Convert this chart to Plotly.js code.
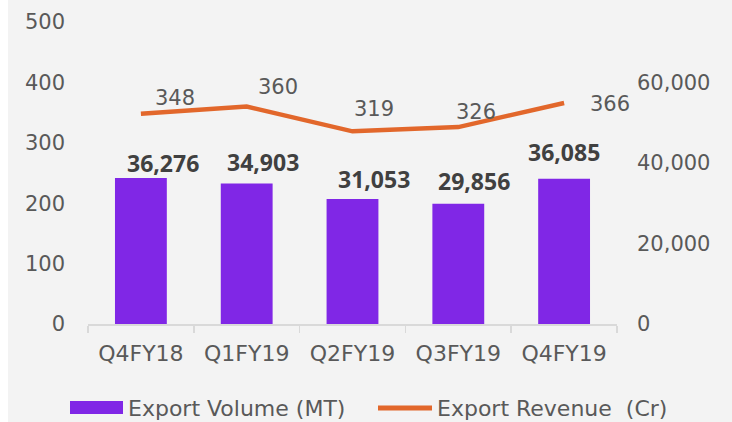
<!DOCTYPE html>
<html>
<head>
<meta charset="utf-8">
<script src="https://cdn.plot.ly/plotly-3.0.1.min.js"></script>
<style>
html,body{margin:0;padding:0;background:#fff;}
#chart{width:732px;height:422px;}
#strip{position:absolute;left:0;top:0;width:8px;height:422px;background:#fff;}
</style>
</head>
<body>
<div id="chart"></div>
<div id="strip"></div>
<script>
const categories = ["Q4FY18", "Q1FY19", "Q2FY19", "Q3FY19", "Q4FY19"];
const exportVolume = [36276, 34903, 31053, 29856, 36085];
const exportRevenue = [348, 360, 319, 326, 366];
const volumeName = "Export Volume (MT)";
const revenueName = "Export Revenue  (Cr)";
const leftTicks = [0, 100, 200, 300, 400, 500];
const rightTicks = [0, 20000, 40000, 60000];

// label offsets (styling, px)
const revLabelShift = [[34, 16], [31, 20], [21, 22], [18, 15], [46, -1]];
const volLabelShift = [[22, 15], [16, 21], [21, 20], [16, 23], [0, 27]];

const purple = "#8027E6";
const orange = "#E2672B";
const grey = "#595959";
const fam = "'DejaVu Sans', sans-serif";
const xFont = {family: fam, size: 22, color: grey};
const yFont = {family: fam, size: 21, color: grey};
const lblFont = {family: fam, size: 21, color: grey};
const legFont = {family: fam, size: 22, color: grey};
const volFont = {family: "'Open Sans', 'Noto Sans', sans-serif", size: 23, color: "#404040", weight: 700};

const barTrace = {
  type: "bar", x: categories, y: exportVolume, yaxis: "y2", name: volumeName,
  marker: {color: purple},
  hoverinfo: "skip", showlegend: false
};
const lineTrace = {
  type: "scatter", mode: "lines", x: categories, y: exportRevenue, yaxis: "y", name: revenueName,
  line: {color: orange, width: 4.5},
  hoverinfo: "skip", showlegend: false
};

const annotations = exportRevenue.map((v, i) => ({
  x: categories[i], y: v, xref: "x", yref: "y", text: String(v), showarrow: false,
  xshift: revLabelShift[i][0], yshift: revLabelShift[i][1],
  font: lblFont
})).concat(exportVolume.map((v, i) => ({
  x: categories[i], y: v, xref: "x", yref: "y2", text: v.toLocaleString("en-US"), showarrow: false,
  xshift: volLabelShift[i][0], yshift: volLabelShift[i][1],
  font: volFont
})));

// custom legend (bottom)
const legY = 408;
const px = x => (x - 88) / 529;
const py = y => (324 - y) / 302;
const shapes = [
  {type: "rect", xref: "paper", yref: "paper",
   x0: px(70), x1: px(123), y0: py(414), y1: py(401),
   fillcolor: purple, line: {width: 0}},
  {type: "line", xref: "paper", yref: "paper",
   x0: px(378), x1: px(432), y0: py(legY), y1: py(legY),
   line: {color: orange, width: 5}}
];
annotations.push(
  {xref: "paper", yref: "paper", x: px(126), y: py(legY), xanchor: "left", yanchor: "middle",
   text: volumeName, showarrow: false, font: legFont},
  {xref: "paper", yref: "paper", x: px(435), y: py(legY), xanchor: "left", yanchor: "middle",
   text: revenueName.replace("  ", "&nbsp; "), showarrow: false, font: legFont}
);

const layout = {
  width: 732, height: 422,
  margin: {l: 88, r: 115, t: 22, b: 98, autoexpand: false},
  paper_bgcolor: "#F3F3F3", plot_bgcolor: "rgba(0,0,0,0)",
  bargap: 0.51,
  showlegend: false,
  xaxis: {
    type: "category", tickfont: xFont, showgrid: false, automargin: false,
    range: [-0.5, categories.length - 0.5],
    showline: true, linecolor: "#D9D9D9", linewidth: 1.5,
    ticks: "outside", tickson: "boundaries", ticklen: 7, tickcolor: "#D9D9D9", tickwidth: 1.5,
    ticklabelstandoff: 9, zeroline: false
  },
  yaxis: {
    range: [0, 500], tickvals: leftTicks, tickfont: yFont, showgrid: false, automargin: false,
    zeroline: false, showline: false, ticks: "", ticklabelstandoff: 22
  },
  yaxis2: {
    range: [0, 75000], tickvals: rightTicks, tickformat: ",", tickfont: yFont, automargin: false,
    overlaying: "y", side: "right", showgrid: false, zeroline: false, showline: false,
    ticks: "", ticklabelstandoff: 19
  },
  shapes: shapes,
  annotations: annotations,
  font: {family: fam, color: grey}
};

Plotly.newPlot("chart", [barTrace, lineTrace], layout, {staticPlot: true, displayModeBar: false});
</script>
</body>
</html>
